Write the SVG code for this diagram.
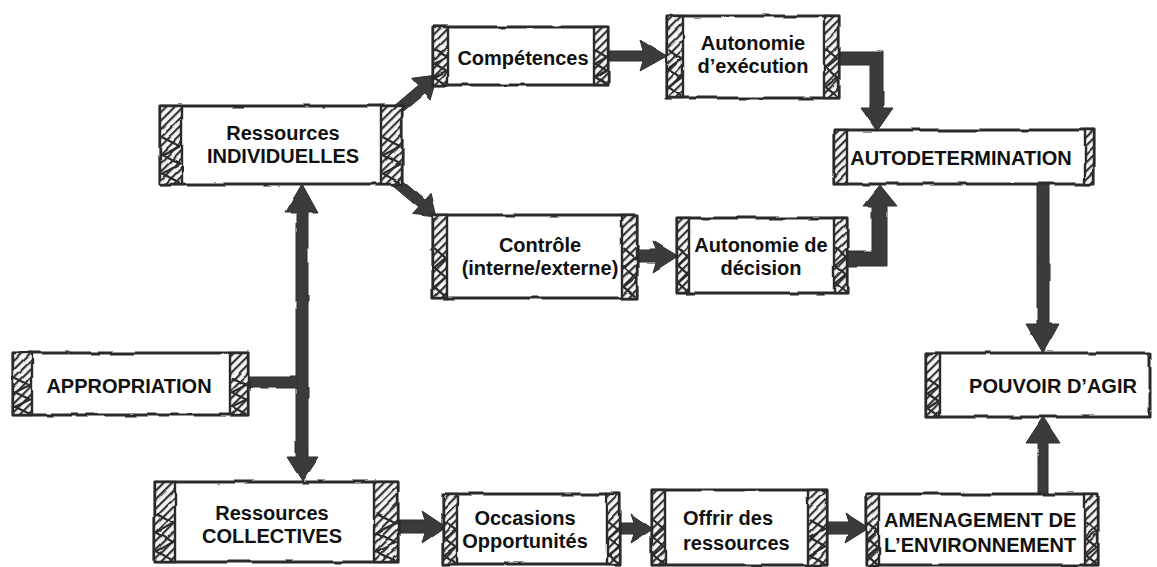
<svg xmlns="http://www.w3.org/2000/svg" width="1157" height="567" viewBox="0 0 1157 567">
  <style>
    .frame { fill: #fff; stroke: #2b2b2b; stroke-width: 3; stroke-linejoin: round; }
    .band { fill: url(#hatch); stroke: #2b2b2b; stroke-width: 2.4; }
    .shape { filter: url(#rough); }
    .lbl { font-family: "Liberation Sans", Arial, sans-serif; font-weight: bold; font-size: 20px; fill: #111; text-anchor: middle; }
    .lbl-l { text-anchor: start; }
    .arrow { fill: #3a3a3a; stroke: #2e2e2e; stroke-width: 1; stroke-linejoin: round; }
  </style>
  <defs>
    <!-- diagonal hatching used in the decorative end bands -->
    <pattern id="hatch" width="6" height="6" patternUnits="userSpaceOnUse" patternTransform="rotate(45)">
      <rect width="6" height="6" fill="#f6f6f6"/>
      <rect width="2.2" height="6" fill="#353535"/>
    </pattern>
    <!-- zig-zag laid over the lower part of each band -->
    <symbol id="zig" viewBox="0 0 10 60" preserveAspectRatio="none">
      <path d="M1,24 L9,31 L1,38 L9,45 L1,52 L9,59" fill="none" stroke="#2b2b2b" stroke-width="2.2" vector-effect="non-scaling-stroke"/>
    </symbol>
    <!-- slight wobble for a hand-drawn outline -->
    <filter id="rough" x="-5%" y="-10%" width="110%" height="120%">
      <feTurbulence type="fractalNoise" baseFrequency="0.035" numOctaves="2" seed="4" result="noise"/>
      <feDisplacementMap in="SourceGraphic" in2="noise" scale="3" xChannelSelector="R" yChannelSelector="G"/>
    </filter>
  </defs>

  <rect width="1157" height="567" fill="#fff"/>

  <!-- connectors -->
  <g id="connectors" class="shape">
    <!-- Compétences -> Autonomie d'exécution -->
    <path class="arrow" d="M607,51 L643,51 L640,40 L667,56 L640,71 L643,61 L607,61 Z"/>
    <!-- Autonomie d'exécution -> AUTODETERMINATION -->
    <path class="arrow" d="M839,52 L883,52 L883,108 L893,108 L877,131 L861,108 L870,108 L870,65 L839,65 Z"/>
    <!-- Autonomie de décision -> AUTODETERMINATION -->
    <path class="arrow" d="M847,252 L872,252 L872,206 L863,206 L880,185 L897,206 L887,206 L887,266 L847,266 Z"/>
    <!-- AUTODETERMINATION -> POUVOIR D'AGIR -->
    <path class="arrow" d="M1037,184 L1049,184 L1049,324 L1059,324 L1043,353 L1026,324 L1037,324 Z"/>
    <!-- AMENAGEMENT -> POUVOIR D'AGIR -->
    <path class="arrow" d="M1038,494 L1038,443 L1026,443 L1043,417 L1060,443 L1048,443 L1048,494 Z"/>
    <!-- Ressources individuelles -> Compétences -->
    <path class="arrow" d="M399.2,113.8 L424,92.8 L429.9,99.7 L437,75 L411.7,78.3 L417.6,85.2 L392.8,106.2 Z"/>
    <!-- Ressources individuelles -> Contrôle -->
    <path class="arrow" d="M392.7,185.8 L418.6,207.7 L412.7,214.5 L437,217 L431.1,193.3 L425.2,200.1 L399.3,178.2 Z"/>
    <!-- Contrôle -> Autonomie de décision -->
    <path class="arrow" d="M637,250 L656,250 L653,241 L678,256 L653,272 L656,262 L637,262 Z"/>
    <!-- two-way link between individual and collective resources -->
    <path class="arrow" d="M302,184 L318,213 L308,213 L308,457 L318,457 L302,481 L287,457 L296,457 L296,213 L285,213 Z"/>
    <!-- APPROPRIATION joins the two-way link -->
    <path class="arrow" d="M247,377 L297,377 L297,388 L247,388 Z"/>
    <!-- Ressources collectives -> Occasions -->
    <path class="arrow" d="M397,520 L425,520 L422,511 L446,527 L422,543 L425,533 L397,533 Z"/>
    <!-- Occasions -> Offrir des ressources -->
    <path class="arrow" d="M620,523 L634,523 L631,514 L653,529 L631,543 L634,534 L620,534 Z"/>
    <!-- Offrir des ressources -> AMENAGEMENT -->
    <path class="arrow" d="M826,522 L848,522 L845,513 L869,528 L845,543 L848,534 L826,534 Z"/>
  </g>

  <!-- nodes -->
  <g id="n-ress-ind">
    <g class="shape">
      <rect class="frame" x="160" y="106" width="242" height="78"/>
      <rect class="band" x="160" y="106" width="22" height="78"/>
      <use href="#zig" x="160" y="106" width="22" height="78"/>
      <rect class="band" x="381" y="106" width="21" height="78"/>
      <use href="#zig" x="381" y="106" width="21" height="78"/>
    </g>
    <text class="lbl" x="283" y="140">Ressources</text>
    <text class="lbl" x="283" y="163">INDIVIDUELLES</text>
  </g>

  <g id="n-competences">
    <g class="shape">
      <rect class="frame" x="433" y="27" width="175" height="58"/>
      <rect class="band" x="433" y="27" width="15" height="58"/>
      <use href="#zig" x="433" y="27" width="15" height="58"/>
      <rect class="band" x="594" y="27" width="14" height="58"/>
      <use href="#zig" x="594" y="27" width="14" height="58"/>
    </g>
    <text class="lbl" x="523" y="65">Compétences</text>
  </g>

  <g id="n-aut-exec">
    <g class="shape">
      <rect class="frame" x="667" y="16" width="172" height="82"/>
      <rect class="band" x="667" y="16" width="16" height="82"/>
      <use href="#zig" x="667" y="16" width="16" height="82"/>
      <rect class="band" x="824" y="16" width="15" height="82"/>
      <use href="#zig" x="824" y="16" width="15" height="82"/>
    </g>
    <text class="lbl" x="753" y="50">Autonomie</text>
    <text class="lbl" x="753" y="73">d’exécution</text>
  </g>

  <g id="n-autodet">
    <g class="shape">
      <rect class="frame" x="834" y="130" width="260" height="54"/>
      <rect class="band" x="834" y="130" width="13" height="54"/>
      <rect class="band" x="1085" y="130" width="9" height="54"/>
    </g>
    <text class="lbl" x="961" y="165">AUTODETERMINATION</text>
  </g>

  <g id="n-controle">
    <g class="shape">
      <rect class="frame" x="433" y="215" width="204" height="83"/>
      <rect class="band" x="433" y="215" width="14" height="83"/>
      <use href="#zig" x="433" y="215" width="14" height="83"/>
      <rect class="band" x="622" y="215" width="15" height="83"/>
      <use href="#zig" x="622" y="215" width="15" height="83"/>
    </g>
    <text class="lbl" x="540" y="252">Contrôle</text>
    <text class="lbl" x="540" y="275">(interne/externe)</text>
  </g>

  <g id="n-aut-dec">
    <g class="shape">
      <rect class="frame" x="677" y="218" width="170" height="75"/>
      <rect class="band" x="677" y="218" width="12" height="75"/>
      <use href="#zig" x="677" y="218" width="12" height="75"/>
      <rect class="band" x="834" y="218" width="13" height="75"/>
      <use href="#zig" x="834" y="218" width="13" height="75"/>
    </g>
    <text class="lbl" x="761" y="252">Autonomie de</text>
    <text class="lbl" x="761" y="275">décision</text>
  </g>

  <g id="n-appropriation">
    <g class="shape">
      <rect class="frame" x="13" y="353" width="235" height="62"/>
      <rect class="band" x="13" y="353" width="19" height="62"/>
      <use href="#zig" x="13" y="353" width="19" height="62"/>
      <rect class="band" x="230" y="353" width="18" height="62"/>
      <use href="#zig" x="230" y="353" width="18" height="62"/>
    </g>
    <text class="lbl" x="129" y="393">APPROPRIATION</text>
  </g>

  <g id="n-pouvoir">
    <g class="shape">
      <rect class="frame" x="926" y="353" width="224" height="64"/>
      <rect class="band" x="926" y="353" width="14" height="64"/>
      <use href="#zig" x="926" y="353" width="14" height="64"/>
    </g>
    <text class="lbl" x="1053" y="393">POUVOIR D’AGIR</text>
  </g>

  <g id="n-ress-coll">
    <g class="shape">
      <rect class="frame" x="155" y="482" width="243" height="80"/>
      <rect class="band" x="155" y="482" width="20" height="80"/>
      <use href="#zig" x="155" y="482" width="20" height="80"/>
      <rect class="band" x="374" y="482" width="24" height="80"/>
      <use href="#zig" x="374" y="482" width="24" height="80"/>
    </g>
    <text class="lbl" x="272" y="520">Ressources</text>
    <text class="lbl" x="272" y="543">COLLECTIVES</text>
  </g>

  <g id="n-occasions">
    <g class="shape">
      <rect class="frame" x="443" y="494" width="177" height="70"/>
      <rect class="band" x="443" y="494" width="14" height="70"/>
      <use href="#zig" x="443" y="494" width="14" height="70"/>
      <rect class="band" x="607" y="494" width="13" height="70"/>
      <use href="#zig" x="607" y="494" width="13" height="70"/>
    </g>
    <text class="lbl" x="525" y="525">Occasions</text>
    <text class="lbl" x="525" y="548">Opportunités</text>
  </g>

  <g id="n-offrir">
    <g class="shape">
      <rect class="frame" x="652" y="490" width="175" height="75"/>
      <rect class="band" x="652" y="490" width="13" height="75"/>
      <use href="#zig" x="652" y="490" width="13" height="75"/>
      <rect class="band" x="808" y="490" width="19" height="75"/>
      <use href="#zig" x="808" y="490" width="19" height="75"/>
    </g>
    <text class="lbl lbl-l" x="683" y="525">Offrir des</text>
    <text class="lbl lbl-l" x="683" y="550">ressources</text>
  </g>

  <g id="n-amenagement">
    <g class="shape">
      <rect class="frame" x="867" y="494" width="231" height="71"/>
      <rect class="band" x="867" y="494" width="12" height="71"/>
      <use href="#zig" x="867" y="494" width="12" height="71"/>
      <rect class="band" x="1085" y="494" width="13" height="71"/>
      <use href="#zig" x="1085" y="494" width="13" height="71"/>
    </g>
    <text class="lbl lbl-l" x="884" y="527">AMENAGEMENT DE</text>
    <text class="lbl lbl-l" x="884" y="552">L’ENVIRONNEMENT</text>
  </g>
</svg>
